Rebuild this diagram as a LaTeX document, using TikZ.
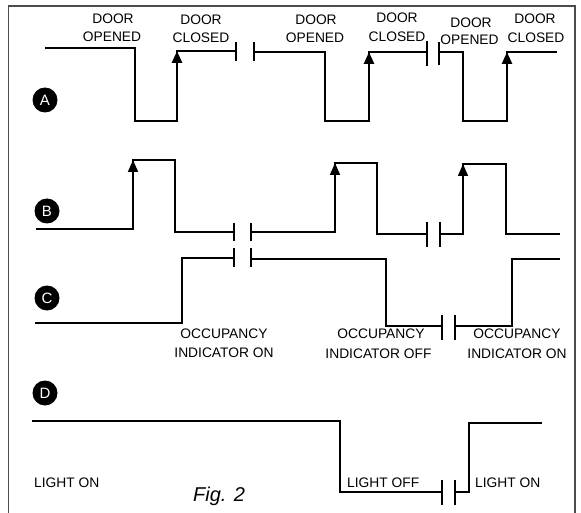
\documentclass[tikz,border=0pt]{standalone}
\usepackage{fontspec}
\setmainfont{Liberation Sans}
\usetikzlibrary{arrows.meta}
\begin{document}
\begin{tikzpicture}[x=1pt,y=-1pt,
  sigA/.style={line width=2.6pt},
  sig/.style={line width=1.7pt},
  upA/.style={line width=2.6pt,-{Triangle[length=12pt,width=10pt]}},
  up/.style={line width=1.7pt,-{Triangle[length=12pt,width=10pt]}},
  lbl/.style={inner sep=0pt,anchor=base,font=\fontsize{13.8}{16}\selectfont},
  lblw/.style={inner sep=0pt,anchor=base west,font=\fontsize{13.8}{16}\selectfont},
  badge/.style={circle,fill=black,minimum size=25pt,inner sep=0pt,text=white,font=\fontsize{15}{17}\selectfont},
  frame/.style={line width=1.2pt,black!70}]
\useasboundingbox (0,0) rectangle (581,513);
% frame
\draw[frame] (8.5,513) -- (8.5,6) -- (575,6) -- (575,513);

% badges
\node[badge] (bA) at (45,100) {A};
\node[badge] (bB) at (47,211) {B};
\node[badge] (bC) at (47,298) {C};
\node[badge] (bD) at (45,393) {D};

% ---------- Signal A ----------
\draw[sigA] (45,48) -- (135,48) -- (135,121) -- (177,121) -- (177,51) -- (236,51);
\draw[upA] (177,90) -- (177,51);
\draw[sigA] (236,42) -- (236,61);
\draw[sigA] (254,42) -- (254,61);
\draw[sigA] (254,52) -- (325,52) -- (325,121) -- (369,121) -- (369,52) -- (427,52);
\draw[upA] (369,90) -- (369,52);
\draw[sigA] (427,41) -- (427,66);
\draw[sigA] (439,42) -- (439,65);
\draw[sigA] (439,52) -- (463,52) -- (463,121) -- (507,121) -- (507,52) -- (557,52);
\draw[upA] (507,90) -- (507,52);

\node[lbl] (a1t) at (113,24) {DOOR};
\node[lbl] (a1b) at (112,42) {OPENED};
\node[lbl] (a2t) at (201,25) {DOOR};
\node[lbl] (a2b) at (201,43) {CLOSED};
\node[lbl] (a3t) at (316,25) {DOOR};
\node[lbl] (a3b) at (315,43) {OPENED};
\node[lbl] (a4t) at (397,23) {DOOR};
\node[lbl] (a4b) at (397,42) {CLOSED};
\node[lbl] (a5t) at (471,28) {DOOR};
\node[lbl] (a5b) at (469.5,45) {OPENED};
\node[lbl] (a6t) at (535,24) {DOOR};
\node[lbl] (a6b) at (536,43) {CLOSED};

% ---------- Signal B ----------
\draw[sig] (36,229) -- (133,229) -- (133,160) -- (175,160) -- (175,232) -- (234,232);
\draw[up] (133,195) -- (133,160);
\draw[sig] (234,223) -- (234,241);
\draw[sig] (251,223) -- (251,241);
\draw[sig] (251,232) -- (335,232) -- (335,163) -- (377,163) -- (377,234) -- (427,234);
\draw[up] (335,200) -- (335,163);
\draw[sig] (427,222) -- (427,247);
\draw[sig] (440,222) -- (440,247);
\draw[sig] (440,234) -- (463,234) -- (463,164) -- (506,164) -- (506,234) -- (560,234);
\draw[up] (463,200) -- (463,164);

% ---------- Signal C ----------
\draw[sig] (35,323) -- (182,323) -- (182,258) -- (234,258);
\draw[sig] (234,248) -- (234,267);
\draw[sig] (251,248) -- (251,267);
\draw[sig] (251,259) -- (386,259) -- (386,326) -- (442,326);
\draw[sig] (442,315) -- (442,340);
\draw[sig] (455,315) -- (455,340);
\draw[sig] (455,326) -- (512,326) -- (512,259) -- (560,259);

\node[lbl] (c1t) at (224,338) {OCCUPANCY};
\node[lbl] (c1b) at (224,357) {INDICATOR ON};
\node[lbl] (c2t) at (381,338) {OCCUPANCY};
\node[lbl] (c2b) at (378.5,358) {INDICATOR OFF};
\node[lbl] (c3t) at (517,338) {OCCUPANCY};
\node[lbl] (c3b) at (517,358) {INDICATOR ON};

% ---------- Signal D ----------
\draw[sig] (32,421) -- (340,421) -- (340,492) -- (442,492);
\draw[sig] (442,480) -- (442,505);
\draw[sig] (455,480) -- (455,505);
\draw[sig] (455,492) -- (469,492) -- (469,423) -- (542,423);

\node[lblw] (d1) at (34,487) {LIGHT ON};
\node[lblw] (d2) at (347,487) {LIGHT OFF};
\node[lblw] (d3) at (475,487) {LIGHT ON};

\node[inner sep=0pt,anchor=base west,font=\fontsize{20}{22}\selectfont\itshape] (fig) at (193,501) {Fig. 2};
\end{tikzpicture}
\end{document}
